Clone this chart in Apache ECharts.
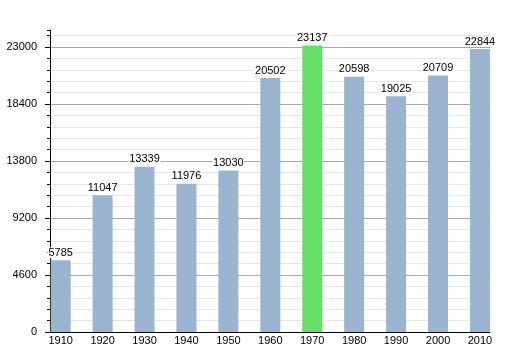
<!DOCTYPE html>
<html>
<head>
<meta charset="utf-8">
<script src="https://cdn.jsdelivr.net/npm/echarts@6/dist/echarts.min.js"></script>
<style>html,body{margin:0;padding:0;background:#fff}#c{width:520px;height:350px}</style>
</head>
<body>
<div id="c"></div>
<script>
var years = [1910, 1920, 1930, 1940, 1950, 1960, 1970, 1980, 1990, 2000, 2010];
var population = [5785, 11047, 13339, 11976, 13030, 20502, 23137, 20598, 19025, 20709, 22844];
var yTicks = [0, 4600, 9200, 13800, 18400, 23000];
var highlightYear = 1970;

var chart = echarts.init(document.getElementById('c'), null, {renderer: 'canvas'});
var data = years.map(function (y, i) {
  return {
    value: [y, population[i]],
    itemStyle: {color: y === highlightYear ? '#66e066' : '#9ab3cf'}
  };
});
var font = 'Liberation Sans, Arial, sans-serif';
chart.setOption({
  animation: false,
  backgroundColor: '#fff',
  grid: {left: 50, right: 30, top: 30, bottom: 18},
  xAxis: {
    type: 'value',
    min: 1907.45,
    max: 2012.4,
    interval: 10,
    axisLine: {show: true, lineStyle: {color: '#000', width: 1}},
    axisTick: {show: false},
    splitLine: {show: false},
    axisLabel: {customValues: years, color: '#000', fontSize: 11, fontFamily: font, margin: 3,
      formatter: function (v) { return String(v); }}
  },
  yAxis: [{
    type: 'value',
    min: 0,
    max: 24380,
    interval: 920,
    axisLine: {show: true, lineStyle: {color: '#000', width: 1}},
    axisTick: {show: true, length: 3, lineStyle: {color: '#000'}},
    axisLabel: {show: false},
    splitLine: {show: true, showMaxLine: false, lineStyle: {color: ['#a8a8a8', '#e6e6e6', '#e6e6e6', '#e6e6e6', '#e6e6e6'], width: 1}}
  }, {
    type: 'value',
    position: 'left',
    min: 0,
    max: 24380,
    axisLine: {show: false},
    axisTick: {show: true, length: 5, customValues: yTicks, lineStyle: {color: '#000'}},
    axisLabel: {customValues: yTicks, color: '#000', fontSize: 11, fontFamily: font, margin: 13,
      formatter: function (v) { return String(v); }},
    splitLine: {show: false}
  }],
  series: [{
    type: 'bar',
    data: data,
    barWidth: 20,
    label: {
      show: true,
      position: 'top',
      distance: 2,
      color: '#000',
      fontSize: 11,
      fontFamily: font,
      backgroundColor: '#fff',
      padding: [0, 1],
      formatter: function (p) { return String(p.value[1]); }
    }
  }]
});
</script>
</body>
</html>
